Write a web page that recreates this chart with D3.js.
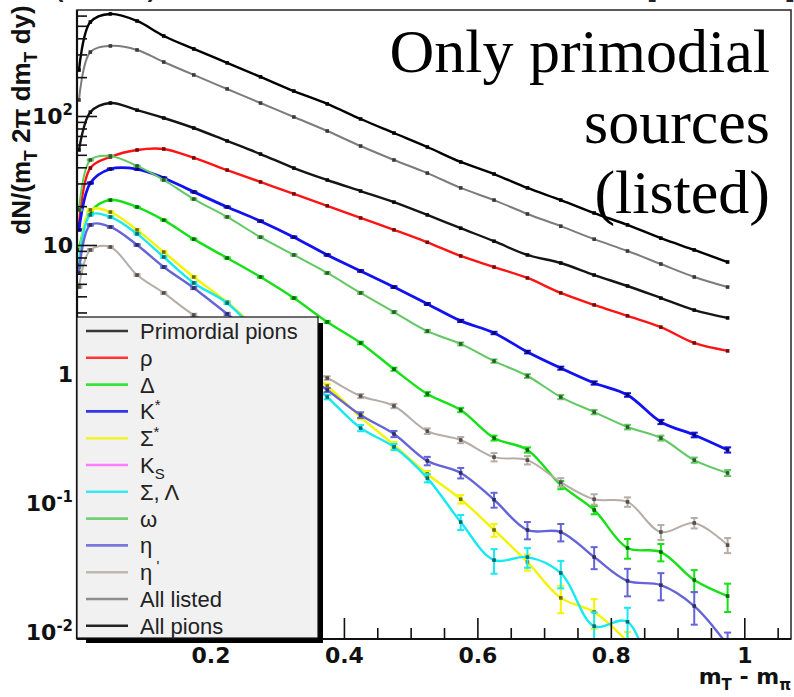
<!DOCTYPE html>
<html>
<head>
<meta charset="utf-8">
<script src="https://cdn.jsdelivr.net/npm/d3@7"></script>
<style>
  body { margin: 0; background: #fff; }
  svg { display: block; }
</style>
</head>
<body>
<svg id="plot" width="794" height="697"></svg>
<script>
// m_T - m_pi bin positions
const mT = [0.003, 0.02, 0.05, 0.09, 0.13, 0.175, 0.225, 0.275, 0.325, 0.375, 0.425, 0.475,
            0.525, 0.575, 0.625, 0.675, 0.725, 0.775, 0.825, 0.875, 0.925, 0.975];

const allPions = [227, 535, 618, 545, 417, 331, 258, 201, 156, 124, 94.8, 73.8, 57.5, 44.0, 35.5, 27.7, 22.3, 17.7, 14.3, 11.3, 9.15, 7.38];
const allListed = [133, 313, 349, 325, 262, 208, 162, 126, 98.2, 76.5, 58.5, 45.6, 36.1, 27.7, 22.3, 17.4, 14.0, 11.1, 8.98, 7.12, 5.65, 4.72];
const primordialPions = [54.5, 107, 126, 111, 96.5, 80.7, 64.0, 50.7, 39.5, 31.9, 26.2, 21.5, 17.1, 13.5, 10.7, 8.37, 7.25, 5.85, 4.81, 3.88, 3.13, 2.72];
const rho = [14.3, 39.5, 48.1, 54.5, 55.5, 47.3, 38.1, 30.8, 24.9, 20.1, 16.2, 13.1, 10.5, 8.22, 6.75, 5.55, 4.25, 3.43, 2.82, 2.31, 1.74, 1.51];
const kStar = [13.1, 30.2, 38.8, 38.8, 33.1, 25.8, 19.7, 15.3, 11.5, 8.37, 6.29, 4.72, 3.49, 2.58, 2.08, 1.48, 1.11, 0.852, 0.688, 0.425, 0.337, 0.258];
const delta = [9.15, 18.0, 22.3, 19.7, 15.6, 11.1, 7.93, 5.65, 3.88, 2.53, 1.74, 1.09, 0.700, 0.526, 0.319, 0.258, 0.138, 0.0883, 0.0448, 0.0417, 0.0253, 0.0190];
const omega = [18.7, 45.6, 49.0, 41.0, 31.9, 22.7, 16.5, 11.5, 8.37, 6.07, 4.25, 3.02, 2.15, 1.71, 1.26, 0.965, 0.663, 0.507, 0.388, 0.319, 0.215, 0.171];
const sigmaStar = [6.75, 18.7, 18.0, 13.1, 8.82, 5.65, 3.61, 2.12, 1.28, 0.807, 0.464, 0.282, 0.168, 0.107, 0.0618, 0.0349, 0.0184, 0.0143, 0.0084];
const kShort = [];
const sigmaLambda = [7.00, 17.1, 16.5, 12.2, 8.07, 5.08, 3.55, 1.97, 1.11, 0.663, 0.381, 0.272, 0.156, 0.0712, 0.0361, 0.0381, 0.0287, 0.0111, 0.0120, 0.0021];
const eta = [6.07, 14.3, 13.8, 10.0, 6.75, 4.64, 2.92, 1.83, 1.15, 0.752, 0.481, 0.343, 0.212, 0.171, 0.106, 0.0618, 0.0596, 0.0381, 0.0249, 0.0231, 0.0159, 0.0079];
const etaPrime = [4.72, 9.15, 9.65, 5.85, 4.25, 2.87, 2.15, 1.62, 1.22, 0.931, 0.675, 0.565, 0.361, 0.308, 0.227, 0.215, 0.145, 0.107, 0.102, 0.0596, 0.0700, 0.0472];

// errors (same units as values)
const errKStar = [0.15, 0.3, 0.35, 0.35, 0.3, 0.25, 0.2, 0.17, 0.14, 0.11, 0.09, 0.075, 0.06, 0.05, 0.045, 0.035, 0.03, 0.025, 0.022, 0.016, 0.014, 0.012];
const errDelta = [0.1, 0.15, 0.15, 0.15, 0.13, 0.1, 0.09, 0.07, 0.06, 0.05, 0.04, 0.03, 0.025, 0.02, 0.014, 0.012, 0.01, 0.0065, 0.0078, 0.0064, 0.0049, 0.0047];
const errOmega = [0.2, 0.4, 0.4, 0.35, 0.3, 0.25, 0.2, 0.15, 0.12, 0.1, 0.08, 0.06, 0.05, 0.045, 0.038, 0.033, 0.025, 0.02, 0.016, 0.014, 0.01, 0.009];
const errSigmaStar = [0.1, 0.2, 0.2, 0.17, 0.13, 0.1, 0.07, 0.05, 0.04, 0.03, 0.019, 0.016, 0.009, 0.008, 0.007, 0.005, 0.0044, 0.0037, 0.0016];
const errSigmaLambda = [0.1, 0.2, 0.2, 0.17, 0.13, 0.09, 0.07, 0.05, 0.035, 0.027, 0.021, 0.015, 0.0115, 0.0095, 0.0078, 0.0066, 0.0069, 0.0031, 0.0034, 0.0009];
const errEta = [0.09, 0.2, 0.2, 0.16, 0.12, 0.09, 0.06, 0.045, 0.035, 0.028, 0.024, 0.019, 0.016, 0.016, 0.014, 0.0095, 0.0092, 0.0074, 0.006, 0.0055, 0.0045, 0.002];
const errEtaPrime = [0.07, 0.15, 0.15, 0.1, 0.08, 0.06, 0.05, 0.04, 0.035, 0.03, 0.025, 0.022, 0.018, 0.017, 0.017, 0.016, 0.011, 0.010, 0.0086, 0.0079, 0.0065, 0.0063];

const legendLabels = ['Primordial pions', 'ρ', 'Δ', 'K^{*}', 'Σ^{*}', 'K_{S}', 'Σ, Λ', 'ω', 'η', "η^{ '}", 'All listed', 'All pions'];

const xTickValues = [0.2, 0.4, 0.6, 0.8, 1.0];
const xTickLabels = ['0.2', '0.4', '0.6', '0.8', '1'];
const yTickValues = [0.01, 0.1, 1, 10, 100];
const yTickLabels = ['10^{-2}', '10^{-1}', '1', '10', '10^{2}'];

const xTitle = 'm_{T} - m_{π}';
const yTitle = 'dN/(m_{T} 2π dm_{T} dy)';
const note = ['Only primodial', 'sources', '(listed)'];

const series = [
	{ label: legendLabels[0], values: primordialPions, err: null, color: '#151515', width: 2.4 },
	{ label: legendLabels[1], values: rho, err: null, color: '#ff1414', width: 2.4 },
	{ label: legendLabels[2], values: delta, err: errDelta, color: '#16e016', width: 2.4 },
	{ label: legendLabels[3], values: kStar, err: errKStar, color: '#1212f0', width: 2.8 },
	{ label: legendLabels[4], values: sigmaStar, err: errSigmaStar, color: '#f4f400', width: 2.4 },
	{ label: legendLabels[5], values: kShort, err: null, color: '#ff66ff', width: 2.4 },
	{ label: legendLabels[6], values: sigmaLambda, err: errSigmaLambda, color: '#18e8f2', width: 2.4 },
	{ label: legendLabels[7], values: omega, err: errOmega, color: '#62c862', width: 2.0 },
	{ label: legendLabels[8], values: eta, err: errEta, color: '#6464d8', width: 2.4 },
	{ label: legendLabels[9], values: etaPrime, err: errEtaPrime, color: '#b6aea6', width: 2.0 },
	{ label: legendLabels[10], values: allListed, err: null, color: '#7c7c7c', width: 2.0 },
	{ label: legendLabels[11], values: allPions, err: null, color: '#000000', width: 2.4 }
];

const frame = { left: 77, right: 791, top: 10, bottom: 639 };
const boldFont = '"DejaVu Sans", sans-serif';

const x = d3.scaleLinear().domain([0, 1.07]).range([frame.left, frame.right]);
const y = d3.scaleLog().domain([0.00883, 663]).range([frame.bottom, frame.top]);

const svg = d3.select('#plot');

// text with ^{} and _{} pieces, baseline restored on the next piece
const rich = (sel, str, size) => {
	let carry = 0;
	str.split(/([_^]\{[^}]*\})/).filter(s => s.length).forEach(p => {
		if (p[0] === '^' || p[0] === '_') {
			const shift = p[0] === '^' ? -0.42 * size : 0.28 * size;
			sel.append('tspan').attr('dy', carry + shift).attr('font-size', size * 0.68).text(p.slice(2, -1));
			carry = -shift;
		} else {
			sel.append('tspan').attr('dy', carry || null).text(p);
			carry = 0;
		}
	});
};

svg.append('defs').append('clipPath').attr('id', 'frame-clip')
	.append('rect')
		.attr('x', frame.left)
		.attr('y', frame.top)
		.attr('width', frame.right - frame.left)
		.attr('height', frame.bottom - frame.top);

const line = d3.line()
	.x(d => x(d[0]))
	.y(d => y(d[1]))
	.curve(d3.curveCatmullRom.alpha(0.5));

const plot = svg.append('g').attr('clip-path', 'url(#frame-clip)');

series.forEach(s => {
	const pts = s.values.map((v, i) => ({ x: mT[i], v: v, e: s.err ? s.err[i] : 0 }));
	if (!pts.length) return;
	const g = plot.append('g');

	g.append('path')
		.attr('d', line(pts.map(p => [p.x, p.v])))
		.attr('fill', 'none')
		.attr('stroke', s.color)
		.attr('stroke-width', s.width)
		.attr('stroke-linejoin', 'round');

	const withErr = pts.filter(p => p.e > 0);
	const top = p => y(p.v + p.e);
	const bot = p => y(Math.max(p.v - p.e, 1e-4));

	g.selectAll('.ebar').data(withErr).enter().append('line')
		.attr('class', 'ebar')
		.attr('x1', p => x(p.x)).attr('x2', p => x(p.x))
		.attr('y1', top).attr('y2', bot)
		.attr('stroke', s.color).attr('stroke-width', 2);

	g.selectAll('.cap-top').data(withErr).enter().append('line')
		.attr('class', 'cap-top')
		.attr('x1', p => x(p.x) - 3.5).attr('x2', p => x(p.x) + 3.5)
		.attr('y1', top).attr('y2', top)
		.attr('stroke', s.color).attr('stroke-width', 2);

	g.selectAll('.cap-bot').data(withErr).enter().append('line')
		.attr('class', 'cap-bot')
		.attr('x1', p => x(p.x) - 3.5).attr('x2', p => x(p.x) + 3.5)
		.attr('y1', bot).attr('y2', bot)
		.attr('stroke', s.color).attr('stroke-width', 2);

	g.selectAll('.marker').data(pts).enter().append('rect')
		.attr('class', 'marker')
		.attr('x', p => x(p.x) - 1.8)
		.attr('y', p => y(p.v) - 1.8)
		.attr('width', 3.6).attr('height', 3.6)
		.attr('fill', d3.color(s.color).darker(2.2));
});

// frame
svg.append('rect')
	.attr('x', frame.left).attr('y', frame.top)
	.attr('width', frame.right - frame.left).attr('height', frame.bottom - frame.top)
	.attr('fill', 'none').attr('stroke', '#2a2222').attr('stroke-width', 1.5);

// y axis ticks (inside)
const isMajor = t => Math.abs(Math.log10(t) - Math.round(Math.log10(t))) < 1e-6;
const yAxisMinor = d3.axisRight(y).tickValues(y.ticks().filter(t => !isMajor(t))).tickSize(10).tickFormat('');
const yAxisMajor = d3.axisRight(y).tickValues(yTickValues).tickSize(20).tickFormat('');
[yAxisMinor, yAxisMajor].forEach(ax => {
	const g = svg.append('g').attr('transform', `translate(${frame.left},0)`).call(ax);
	g.select('.domain').remove();
	g.selectAll('line').attr('stroke', '#111').attr('stroke-width', 1.6);
});
svg.append('line')
	.attr('x1', frame.left).attr('x2', frame.left)
	.attr('y1', frame.top).attr('y2', frame.bottom)
	.attr('stroke', '#111').attr('stroke-width', 2.2);

yTickValues.forEach((v, i) => {
	const t = svg.append('text')
		.attr('x', 73).attr('y', y(v) + 8)
		.attr('text-anchor', 'end')
		.attr('font-family', boldFont).attr('font-weight', 'bold').attr('font-size', 22)
		.attr('fill', '#111');
	rich(t, yTickLabels[i], 22);
});

// x axis ticks (pointing up)
const xMinor = d3.range(1, 22).map(i => +(i * 0.05).toFixed(2)).filter(v => !xTickValues.includes(v));
const xAxisMinor = d3.axisBottom(x).tickValues(xMinor).tickSize(-11).tickFormat('');
const xAxisMajor = d3.axisBottom(x).tickValues(xTickValues).tickSize(-21).tickPadding(8)
	.tickFormat((d, i) => xTickLabels[i]);
svg.append('g').attr('transform', `translate(0,${frame.bottom})`).call(xAxisMinor)
	.call(g => g.select('.domain').remove())
	.call(g => g.selectAll('line').attr('stroke', '#111').attr('stroke-width', 1.6));
svg.append('g').attr('transform', `translate(0,${frame.bottom})`).call(xAxisMajor)
	.call(g => g.select('.domain').remove())
	.call(g => g.selectAll('line').attr('stroke', '#111').attr('stroke-width', 1.6))
	.call(g => g.selectAll('text')
		.attr('font-family', boldFont).attr('font-weight', 'bold').attr('font-size', 22).attr('fill', '#111'));
svg.append('line')
	.attr('x1', frame.left).attr('x2', frame.right)
	.attr('y1', frame.bottom).attr('y2', frame.bottom)
	.attr('stroke', '#111').attr('stroke-width', 2.2);

// axis titles
const xt = svg.append('text')
	.attr('x', 791).attr('y', 684)
	.attr('text-anchor', 'end')
	.attr('font-family', boldFont).attr('font-weight', 'bold').attr('font-size', 22)
	.attr('fill', '#111');
rich(xt, xTitle, 22);

const yt = svg.append('text')
	.attr('transform', 'translate(30,120) rotate(-90)')
	.attr('text-anchor', 'middle')
	.attr('font-family', '"Liberation Sans", Arial, sans-serif').attr('font-weight', 'bold').attr('font-size', 26)
	.attr('fill', '#111');
rich(yt, yTitle, 26);

// clipped pieces of the text above the picture
[['(', 55], [')', 146], ['[', 647], [']', 785]].forEach(([c, px]) => {
	svg.append('text').attr('x', px).attr('y', -1)
		.attr('font-family', boldFont).attr('font-weight', 'bold').attr('font-size', 22)
		.attr('fill', '#222').text(c);
});

// note
note.forEach((s, i) => {
	svg.append('text')
		.attr('x', 770).attr('y', 72 + i * 70.5)
		.attr('text-anchor', 'end')
		.attr('font-family', '"Liberation Serif", "Times New Roman", serif').attr('font-size', 62)
		.attr('fill', '#000')
		.text(s);
});

// legend
const leg = svg.append('g');
leg.append('rect').attr('x', 86).attr('y', 323).attr('width', 237).attr('height', 320).attr('fill', '#000');
leg.append('rect').attr('x', 77).attr('y', 317).attr('width', 241).attr('height', 321)
	.attr('fill', '#f1f1f1').attr('stroke', '#111').attr('stroke-width', 1.2);

const rowY = i => 331 + i * 26.8;
leg.selectAll('.leg-line').data(series).enter().append('line')
	.attr('class', 'leg-line')
	.attr('x1', 86).attr('x2', 128)
	.attr('y1', (d, i) => rowY(i)).attr('y2', (d, i) => rowY(i))
	.attr('stroke', d => d.color).attr('stroke-width', 2.6)
	.attr('stroke-opacity', 0.85);

series.forEach((s, i) => {
	const t = leg.append('text')
		.attr('x', 140).attr('y', rowY(i) + 8)
		.attr('font-family', '"Liberation Sans", Arial, sans-serif').attr('font-size', 22)
		.attr('fill', '#222');
	rich(t, s.label, 22);
});
</script>
</body>
</html>
